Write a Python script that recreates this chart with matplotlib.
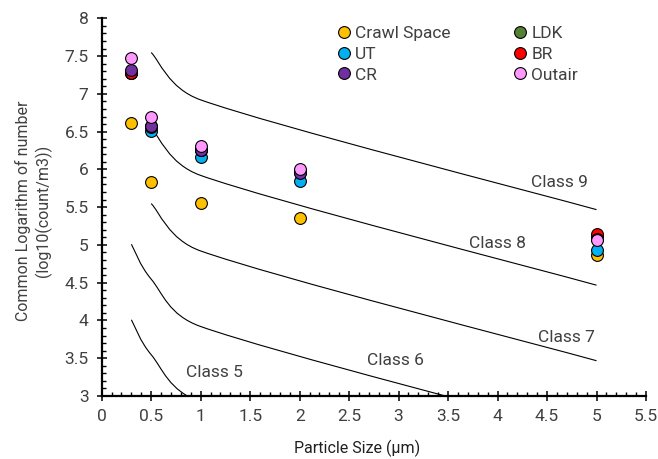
"""
Particle concentration vs. particle size with ISO 14644-1 class limit curves
"""

import numpy as np
import matplotlib
matplotlib.use("Agg")
import matplotlib.pyplot as plt
from matplotlib.path import Path
from matplotlib.patches import PathPatch
from matplotlib.ticker import MultipleLocator, FuncFormatter

plt.rcParams["font.family"] = ["Roboto", "DejaVu Sans"]

# ========== data ==========

sizes = [0.3, 0.5, 1, 2, 5]

crawl_space = [6.62, 5.83, 5.55, 5.35, 4.87]
ut = [7.27, 6.51, 6.16, 5.84, 4.93]
cr = [7.31, 6.58, 6.25, 5.95, 5.08]
ldk = [7.28, 6.57, 6.26, 5.97, 5.10]
br = [7.28, 6.56, 6.26, 5.96, 5.14]
outair = [7.48, 6.69, 6.31, 6.01, 5.06]

# ISO class limits, log10(count/m3) from the standard table
iso_sizes_low = [0.3, 0.5, 1, 5]
iso_sizes_high = [0.5, 1, 5]
class5 = [4.009, 3.547, 2.920, 1.462]
class6 = [5.009, 4.547, 3.920, 2.467]
class7 = [5.547, 4.920, 3.467]
class8 = [6.547, 5.920, 4.467]
class9 = [7.547, 6.920, 5.467]

class_labels = ["Class 5", "Class 6", "Class 7", "Class 8", "Class 9"]
label_x = [1.14, 2.97, 4.70, 4.00, 4.63]
label_y = [3.31, 3.47, 3.78, 5.02, 5.82]

# ========== figure ==========

W, H, DPI = 658, 459, 100
fig = plt.figure(figsize=(W / DPI, H / DPI), dpi=DPI)
ax_left, ax_right, ax_bottom, ax_top = 101.7, 646.0, 396.0, 18.3
ax = fig.add_axes([ax_left / W, 1 - ax_bottom / H,
                   (ax_right - ax_left) / W, (ax_bottom - ax_top) / H])

XMIN, XMAX, YMIN, YMAX = 0, 5.5, 3, 8
sx = (ax_right - ax_left) / (XMAX - XMIN)   # px per x unit
sy = (ax_bottom - ax_top) / (YMAX - YMIN)   # px per y unit


def smooth_path(xs, ys, r=0.5):
    """Excel-like smoothed line: cubic Bezier through the points."""
    pts = np.column_stack([xs, ys]).astype(float)
    n = len(pts)

    def plen(v):
        return np.hypot(v[0] * sx, v[1] * sy)

    verts = [pts[0]]
    codes = [Path.MOVETO]
    for i in range(n - 1):
        p0 = pts[max(i - 1, 0)]
        p1 = pts[i]
        p2 = pts[i + 1]
        p3 = pts[min(i + 2, n - 1)]
        seg = plen(p2 - p1)
        a1 = (p2 - p0) / 6
        a2 = (p3 - p1) / 6
        if plen(a1) > r * seg:
            a1 = a1 * r * seg / plen(a1)
        if plen(a2) > r * seg:
            a2 = a2 * r * seg / plen(a2)
        verts += [p1 + a1, p2 - a2, p2]
        codes += [Path.CURVE4] * 3
    return Path(verts, codes)


for xs, ys in [(iso_sizes_low, class5), (iso_sizes_low, class6),
               (iso_sizes_high, class7), (iso_sizes_high, class8),
               (iso_sizes_high, class9)]:
    ax.add_patch(PathPatch(smooth_path(xs, ys), fill=False,
                           edgecolor="black", lw=0.8, zorder=2))

for txt, tx, ty in zip(class_labels, label_x, label_y):
    ax.text(tx, ty, txt, ha="center", va="center", fontsize=12.5,
            color="#404040", zorder=3)

series = [
    ("Crawl Space", crawl_space, "#FFC000", 4),
    ("UT", ut, "#00B0F0", 5),
    ("CR", cr, "#7030A0", 8),
    ("LDK", ldk, "#548235", 6),
    ("BR", br, "#FF0000", 7),
    ("Outair", outair, "#FF99FF", 9),
]
for name, vals, color, z in series:
    ax.plot(sizes, vals, linestyle="none", marker="o", ms=8.5,
            mfc=color, mec="black", mew=0.8, label=name, zorder=z,
            clip_on=False)

ax.set_xlim(XMIN, XMAX)
ax.set_ylim(YMIN, YMAX)

# axes styling (Excel look)
for s in ["top", "right"]:
    ax.spines[s].set_visible(False)
for s in ["left", "bottom"]:
    ax.spines[s].set_linewidth(1.6)
    ax.spines[s].set_zorder(10)

fmt = FuncFormatter(lambda v, _: f"{v:g}")
ax.xaxis.set_major_locator(MultipleLocator(0.5))
ax.xaxis.set_minor_locator(MultipleLocator(0.1))
ax.yaxis.set_major_locator(MultipleLocator(0.5))
ax.yaxis.set_minor_locator(MultipleLocator(0.1))
ax.xaxis.set_major_formatter(fmt)
ax.yaxis.set_major_formatter(fmt)
ax.tick_params(which="major", direction="inout", length=7, width=1.1,
               labelsize=12.5, labelcolor="#404040", pad=6)
ax.tick_params(which="minor", direction="in", length=3, width=1.0)

ax.set_xlabel("Particle Size (\u03bcm)", fontsize=11.5, color="#202020")
ax.xaxis.set_label_coords((357 - ax_left) / (ax_right - ax_left),
                          -(440 - ax_bottom) / (ax_bottom - ax_top))
ax.set_ylabel("Common Logarithm of number\n(log10(count/m3))",
              fontsize=11.5, color="#404040", linespacing=1.3)
ax.yaxis.set_label_coords(-(ax_left - 52) / (ax_right - ax_left), 0.49)

ax.legend(loc="upper left", bbox_to_anchor=(337 / W, 1 - 26 / H),
          bbox_transform=fig.transFigure, ncol=2, frameon=False,
          fontsize=12.5, handlelength=0.8, handletextpad=0.25,
          labelspacing=0.32, columnspacing=3.6, borderpad=0,
          borderaxespad=0, labelcolor="#404040")

fig.savefig("out.png", dpi=DPI)
